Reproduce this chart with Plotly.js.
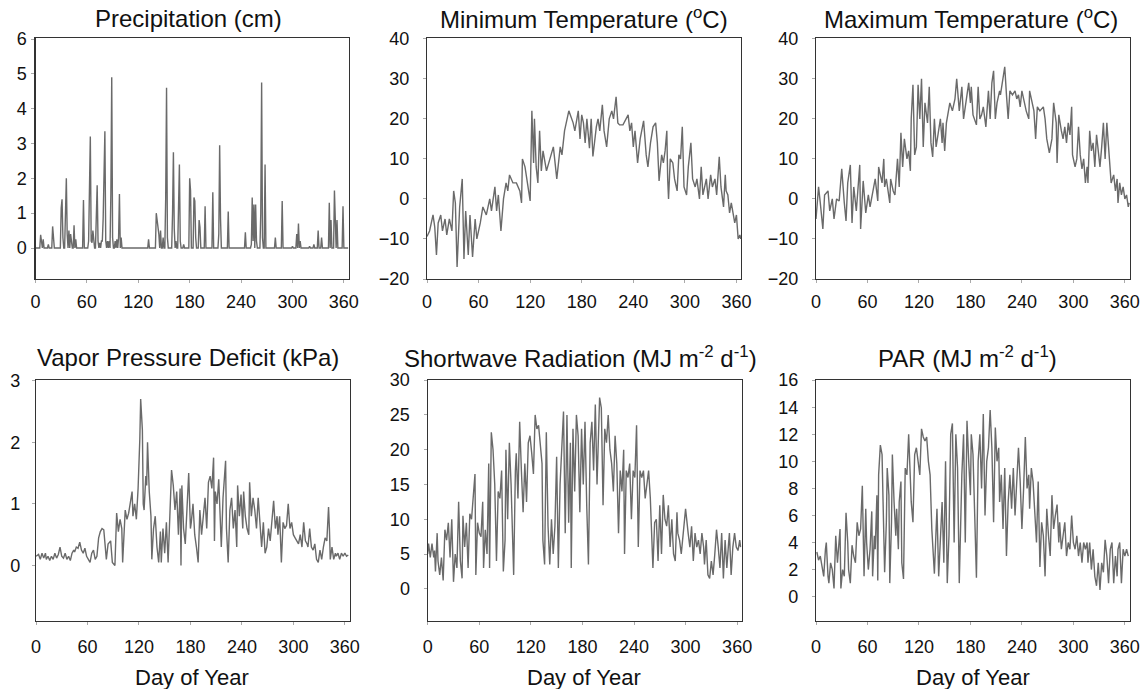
<!DOCTYPE html>
<html><head><meta charset="utf-8">
<script src="https://cdn.plot.ly/plotly-3.0.1.min.js"></script>
<style>html,body{margin:0;padding:0;background:#fff}#chart{width:1147px;height:689px}</style>
</head><body><div id="chart"></div>
<script>
// ---- Precipitation (cm): days with rain and amounts (all other days 0) ----
const precipDays = [6,7,9,15,20,21,30,31,32,35,36,37,39,41,42,45,47,56,62,63,64,65,66,67,68,71,72,73,75,77,78,79,80,81,82,84,86,88,89,90,93,95,97,98,100,110,132,141,142,143,144,146,149,152,153,154,160,161,162,164,167,168,169,173,180,181,185,186,187,191,192,198,207,214,215,216,225,245,252,253,254,255,257,258,263,264,265,268,280,288,300,305,307,309,320,325,330,334,343,345,349,350,352,359];
const precipAmounts = [0.38,0.1,0.25,0.1,0.62,0.3,1.15,1.4,0.3,1.45,2.0,0.4,0.5,0.4,0.2,0.65,0.25,1.38,0.2,2.0,3.2,0.2,0.15,0.5,0.2,1.4,1.8,0.2,0.15,0.2,0.2,0.85,2.4,3.35,0.2,0.2,0.2,1.6,4.9,0.3,0.2,0.25,0.3,1.55,0.3,0.02,0.25,1.0,0.8,0.6,0.4,0.5,0.3,1.45,4.6,0.3,1.0,2.75,0.55,0.2,0.9,2.4,0.2,0.1,2.0,1.65,1.45,1.35,0.3,0.8,0.6,1.2,1.6,0.4,2.95,0.85,1.05,0.45,0.1,1.45,0.2,1.25,1.25,0.2,1.0,4.75,0.3,2.4,0.3,1.35,0.05,0.4,0.7,0.2,0.05,0.1,0.5,0.3,1.3,0.8,1.65,1.0,0.8,1.2];

// ---- Minimum temperature (°C) ----
const tminDays = [0,3,7,9,11,13,16,18,21,23, 26,29,31,33,35,38,41,43,45,48, 50,53,56,58,62,65,69,73,75,79,
  81,83,86,89,92,94,96,100,104,108, 110,111,114,118,120,122,124,125,127,129, 131,133,135,139,143,147,151,155,157,160,
  165,170,172,174,176,178,180,182,184,186, 189,191,193,197,199,201,204,206,209,212, 215,217,220,222,224,228,232,234,236,238,
  240,242,245,248,252,255,257,260,263,266, 268,270,273,275,277,279,280,281,283,286, 288,291,293,295,297,299,302,304,307,309,
  312,314,317,319,321,325,327,330,332,335, 337,340,342,345,347,348,350,352,354,356, 358,360,362,364,365];
const tminVals = [-9.4,-8,-4,-7,-14,-6,-4,-8,-5,-9, -5,-8,2,-1,-17,-2,5,-15,-3,-14, -4,-14.5,-5,-10,-6,-2,-4,0,-3,3,
  -3,1,-8,0,4,2,6,4,4,2, -1,10,8,3,-0.5,22,9,20,8,4, 17,7,12,7,10,13,5,13,11,17,
  22,19,17,20,22,15,21,19,14,20, 12.7,20,10.6,18,20,17,23.5,17,13,20, 22,20,25.5,19,18.5,18.5,20,21,17,19,
  13,17,9,15,19.5,11,8,14,18,19, 14,4.5,11,9,12,17,5,0,10,9, 5,2,11,10,18,3,1,8,14,5,
  3,5,0,8,1,5,0,6,3,5, 1,10.5,3,-2,6,2,1,-3.5,-1,-4, -6,-4,-10,-9,-10];

// ---- Maximum temperature (°C) ----
const tmaxDays = [0,3,5,8,10,14,16,19,21,24, 27,30,33,35,37,40,42,44,47,51, 52,55,58,61,63,67,69,72,73,77,
  79,80,82,86,87,90,92,95,97,99, 101,103,106,108,110,111,113,115,117,119, 121,123,125,127,130,132,134,136,138,140,
  143,145,147,148,150,152,156,159,162,164, 167,170,172,175,178,180,181,183,187,189, 191,193,195,198,201,203,205,207,209,211,
  214,215,218,220,222,224,226,229,232,234, 236,238,240,242,245,248,249,251,254,256, 258,261,265,267,269,272,275,277,280,281,
  283,286,288,290,292,294,296,298,299,302, 304,306,308,310,312,314,316,317,319,321, 323,325,327,329,331,333,335,337,339,341,
  343,344,347,349,351,352,354,356,358,360, 362,364,365];
const tmaxVals = [-5,3,-1,-7.5,1,2,-3,0,-5,0, -0.5,7.5,-1,-5.5,4,8.5,-6,3,-3,8.5, -7.5,4.5,-3.5,1,-2,3,5,-0.5,8,4,
  10,3,5,-1,5,2,1,10,3,16.5, 8,15,10,12,7,20,28.5,11,13,28.5, 20,30,13,24,19,28,14,10.5,20,13,
  17,20,14,19,12,19,24,22,25,30, 22,28,20,25,29,24,28,21,18.5,28, 20,21,23,18,27,20,29,32,20,24,
  27,26,30,33,26,20,27,26,27,25, 26,23,27,25,22,20,27,25,22,15, 23,22,23,20,15,11.5,15,24,19,9,
  21,17,15,18,14,19,16,23,11,8, 10,18,11,7.5,10,4,8,4,17,12, 14,8,16,12,8,13,19,10,19,13,
  8,4,6,2,5,-1,4,1,3,0, 1,-2,-1];

// ---- Vapor pressure deficit (kPa) ----
const vpdDays = [0,3,5,7,9,11,12,14,16,18, 20,22,24,26,28,30,32,34,36,38, 40,42,44,45,47,49,51,53,55,57,
  59,61,63,65,67,69,71,73,75,77, 79,82,84,87,89,92,94,96,98,100, 101,104,106,108,110,112,113,115,117,119,
  121,122,124,125,126,128,129,130,132,134, 135,137,139,141,143,145,146,148,150,152, 154,156,158,160,162,164,166,168,169,170,
  172,174,176,178,180,181,183,185,187,189, 191,193,195,197,199,201,203,205,207,208, 209,211,213,214,216,218,221,222,224,226,
  228,230,232,234,235,237,239,241,242,244, 246,248,249,251,253,255,257,259,261,263, 265,267,269,271,273,275,277,279,281,282,
  284,286,288,290,292,294,296,298,300,302, 304,306,308,310,312,314,316,317,319,321, 323,325,327,329,331,333,335,337,339,341,
  342,343,345,347,349,350,352,354,356,358, 360,362,364];
const vpdVals = [0.15,0.18,0.1,0.2,0.12,0.2,0.1,0.15,0.08,0.15, 0.1,0.2,0.12,0.18,0.3,0.15,0.12,0.2,0.1,0.15, 0.08,0.2,0.25,0.22,0.3,0.28,0.38,0.25,0.2,0.28,
  0.15,0.1,0.05,0.2,0.25,0.1,0.15,0.45,0.55,0.6, 0.58,0.1,0.35,0.4,0.05,0.0,0.85,0.55,0.75,0.6, 0.05,0.9,0.75,0.85,1.05,1.2,0.8,1.0,0.75,1.25,
  2.05,2.7,2.2,1.0,0.9,1.45,1.3,2.0,1.2,0.8, 0.1,0.6,0.8,0.3,0.05,0.55,0.05,0.6,0.2,0.7, 0.05,1.0,1.55,1.3,0.9,1.2,0.5,1.25,0.0,1.3,
  0.6,0.35,0.9,1.5,0.6,0.7,1.0,0.5,0.3,0.05, 0.9,0.5,0.8,1.1,0.6,1.35,1.45,1.25,1.75,0.4, 1.2,1.0,1.4,0.9,0.3,1.1,1.7,0.6,0.05,0.9,
  1.1,0.6,0.9,0.3,1.3,0.8,1.15,0.6,1.2,0.8, 0.6,0.5,1.35,0.8,1.1,0.9,0.6,1.1,0.6,0.3, 0.7,0.2,0.3,0.6,0.4,0.8,1.05,0.6,0.8,0.5,
  0.8,0.05,0.7,0.6,0.65,1.0,0.6,0.7,0.5,0.45, 0.4,0.35,0.5,0.3,0.7,0.4,0.35,0.3,0.6,0.3, 0.25,0.35,0.1,0.05,0.25,0.1,0.3,0.45,0.4,0.95,
  0.6,0.1,0.3,0.1,0.2,0.15,0.2,0.1,0.2,0.15, 0.2,0.15,0.17];

// ---- Shortwave radiation (MJ m-2 d-1) ----
const swDays = [0,1,3,5,7,8,9,11,12,14, 16,18,20,22,24,26,28,30,32,34, 36,38,40,41,43,45,47,49,51,53,
  55,56,58,60,62,64,65,67,69,71, 72,74,76,78,80,82,84,86,88,90, 91,93,95,97,98,100,102,103,105,107,
  109,111,113,115,117,119,121,123,125,127, 129,131,133,134,136,138,140,142,144,146, 148,150,152,154,156,158,160,162,163,164,
  166,167,169,171,173,175,177,179,181,183, 185,187,189,191,193,195,197,198,200,202, 204,206,208,210,212,214,216,218,220,222,
  224,226,228,229,231,233,235,237,239,241, 243,245,247,249,251,253,255,257,259,260, 262,264,266,268,270,272,274,276,278,280,
  282,284,286,288,290,291,293,295,297,300, 303,305,307,309,311,313,315,317,319,321, 322,324,326,328,330,332,334,336,338,340,
  342,344,346,348,350,351,353,355,357,359, 361,363,364];
const swVals = [5,6.5,4.5,6.5,4.5,5.5,2.5,8,4,2, 4.5,1.2,8.5,7,9.5,4.5,10,1,5,3, 12.5,4,1.5,10.5,6,9.5,3,10.8,10,13,
  16.5,2,9.5,8,7.5,12.5,3,8.5,5,18, 3,22.5,20,15,4,14,13,17,2.5,7, 20,10,21,15,11,2,17,19.5,13,24,
  17,11,18,12.5,21,22,19.5,16.5,25,23, 23.5,21,18,7,3.5,22.5,9,3.5,10,5, 9,19,3,15,20,25.5,8,25,17,9.5,
  21,3,23,14,25,22,11,23,15,24, 12,3.5,21,24,17,26.5,15,20,27.5,26, 12,23,21,25,20,18,14,22,18,8,
  17,14,20,5,17,16,18,10,17,16, 23.5,6,17,16,17,13,15,17,13,9, 3,9.5,10,4,12,5,13.5,10,9,12,
  6,10,5,4,11,8,7,5,8,11.5, 8,6,9,4,8,6,7,5,8,6, 3.5,7,2,1.5,4,2,5,8.5,6,3,
  8,1.5,7,3,6.5,8,2,6,8,6, 5.5,7,6];

// ---- PAR (MJ m-2 d-1) ----
const parDays = [1,3,5,7,9,11,12,14,15,17, 19,21,23,25,27,28,29,31,33,35, 37,38,40,42,44,46,48,50,52,54,
  56,58,59,61,63,65,66,68,69,71, 72,73,75,77,78,80,82,83,85,86, 88,89,91,93,94,96,97,99,100,102,
  104,106,108,110,111,113,115,117,119,121, 123,125,127,129,131,133,135,136,138,140, 141,143,145,147,149,151,153,155,157,159,
  161,163,165,167,170,172,174,176,178,180, 181,183,185,187,189,191,193,195,197,199, 201,203,205,207,209,211,213,214,216,218,
  220,222,224,226,228,230,232,234,236,238, 240,242,244,246,248,249,251,253,255,257, 259,261,263,265,267,269,271,273,275,277,
  279,281,283,284,286,288,290,292,294,296, 298,300,302,304,306,308,310,312,314,316, 317,319,321,323,325,327,329,331,333,335,
  337,339,341,343,345,347,349,351,352,354, 356,358,360,362,364];
const parVals = [3.3,2.7,3.0,2.3,1.5,3.5,4.0,1.5,1.0,2.5, 2.0,0.6,4.5,2.5,4.8,5.0,0.6,2.0,1.5,6.2, 4,2,1.0,3.8,3.0,2.5,5.5,4.5,5.0,8.2,
  1.5,6.5,4,2,3.5,6.3,1.5,4.5,3.5,7.5, 1.2,9,11.2,10.5,7.5,1.8,5.5,9.5,7.5,1.0, 5.5,10.5,7,4.5,6.5,3.5,7,8.5,2.5,1.3,
  9.5,9,12,8,7,5.5,10.5,11,10,9, 12.4,11.8,11.5,11.8,10,9,5,3.5,1.7,5, 6.5,1.5,5,7,2.5,10,1.0,4.5,12,12.8,
  4.0,12,9.5,1,9,12,4,13,10,7.5, 12,10.5,6,1.4,10,12,8,13.5,6,10, 11,13.8,11,5.5,12.5,10,11,7,9,5,
  9.5,3,7,9,6.5,9.5,6,8.5,11,8.5, 5,8,11.8,8,9,6.5,9.5,8.5,6.5,4, 8.5,2.2,5.5,4.5,1.5,6.5,4.5,3,7.5,5,
  6,6.8,4,5.5,3.5,4.5,5.5,3,4,3.5, 6,4,3.5,4.5,3,4,2.5,4,3.5,4, 2.5,4,2,3.5,1.5,0.8,2.5,0.5,2.5,1.8,
  4.2,3,1.0,3.5,4,1.0,3,1.5,3.5,4.0, 1.0,3.5,3,3.5,3];

// ---- axis ticks and panel titles ----
const dayTicks = [0,60,120,180,240,300,360];
const precipTicks = [0,1,2,3,4,5,6];
const tempTicks = [-20,-10,0,10,20,30,40];
const vpdTicks = [0,1,2,3];
const swTicks = [0,5,10,15,20,25,30];
const parTicks = [0,2,4,6,8,10,12,14,16];
const panelTitles = ['Precipitation (cm)','Minimum Temperature (<sup>o</sup>C)','Maximum Temperature (<sup>o</sup>C)',
  'Vapor Pressure Deficit (kPa)','Shortwave Radiation (MJ m<sup>-2</sup> d<sup>-1</sup>)','PAR (MJ m<sup>-2</sup> d<sup>-1</sup>)'];
const xTitle = 'Day of Year';

// build the daily precipitation table from the rain days
const allDays = Array.from({length: 366}, (_, d) => d);
const precipDaily = allDays.map(() => 0);
precipDays.forEach((d, i) => { precipDaily[d] = precipAmounts[i]; });

const W = 1147, H = 689;
const FONT = 'Arial, "Liberation Sans", sans-serif';
const LINE = {color: '#6a6a6a', width: 1.4};

const traces = [
  {x: allDays, y: precipDaily, xaxis: 'x', yaxis: 'y'},
  {x: tminDays, y: tminVals, xaxis: 'x2', yaxis: 'y2'},
  {x: tmaxDays, y: tmaxVals, xaxis: 'x3', yaxis: 'y3'},
  {x: vpdDays, y: vpdVals, xaxis: 'x4', yaxis: 'y4'},
  {x: swDays, y: swVals, xaxis: 'x5', yaxis: 'y5'},
  {x: parDays, y: parVals, xaxis: 'x6', yaxis: 'y6'}
].map(t => Object.assign(t, {type: 'scatter', mode: 'lines', line: LINE, hoverinfo: 'skip', showlegend: false}));

function px(a, b) { return [a / W, b / W]; }
function py(top, bottom) { return [1 - bottom / H, 1 - top / H]; }

function axis(domain, range, tickvals, standoff, anchor) {
  return {
    domain: domain, range: range, tickvals: tickvals, anchor: anchor,
    showline: true, linecolor: '#333', linewidth: 1.2, mirror: true,
    ticks: 'outside', ticklen: 3, tickcolor: '#aaa', tickwidth: 1,
    showgrid: false, zeroline: false, fixedrange: true,
    ticklabelstandoff: standoff,
    tickfont: {family: FONT, size: 18, color: '#111'}
  };
}

const rowTop = py(38, 279), rowBot = py(380, 621);
const layout = {
  width: W, height: H, margin: {l: 0, r: 0, t: 0, b: 0},
  paper_bgcolor: '#fff', plot_bgcolor: '#fff', showlegend: false,
  font: {family: FONT, color: '#111'},
  xaxis:  axis(px(35.5, 349), [0, 366], dayTicks, 3, 'y'),
  yaxis:  axis(rowTop, [-0.89, 6.03], precipTicks, 1, 'x'),
  xaxis2: axis(px(427, 741), [0, 365.3], dayTicks, 3, 'y2'),
  yaxis2: axis(rowTop, [-20, 40.2], tempTicks, 10, 'x2'),
  xaxis3: axis(px(816, 1130), [0, 366], dayTicks, 3, 'y3'),
  yaxis3: axis(rowTop, [-20, 40.2], tempTicks, 10, 'x3'),
  xaxis4: axis(px(36, 350), [0, 366], dayTicks, 6, 'y4'),
  yaxis4: axis(rowBot, [-0.9, 3.01], vpdTicks, 8, 'x4'),
  xaxis5: axis(px(427.7, 741.7), [0, 365.3], dayTicks, 6, 'y5'),
  yaxis5: axis(rowBot, [-4.63, 30.02], swTicks, 10, 'x5'),
  xaxis6: axis(px(816, 1130), [0, 366], dayTicks, 6, 'y6'),
  yaxis6: axis(rowBot, [-1.8, 16.01], parTicks, 10, 'x6'),
  annotations: []
};

const centers = [188, 584, 971, 188, 580, 968];
const titleY = [18, 18, 18, 357, 357, 357];
panelTitles.forEach((t, i) => {
  layout.annotations.push({text: t, xref: 'paper', yref: 'paper', x: centers[i] / W, y: 1 - titleY[i] / H,
    xanchor: 'center', yanchor: 'middle', showarrow: false, font: {family: FONT, size: 24, color: '#111'}});
});
[192, 584, 973].forEach(c => {
  layout.annotations.push({text: xTitle, xref: 'paper', yref: 'paper', x: c / W, y: 1 - 677 / H,
    xanchor: 'center', yanchor: 'middle', showarrow: false, font: {family: FONT, size: 22, color: '#111'}});
});

Plotly.newPlot('chart', traces, layout, {staticPlot: true, displayModeBar: false});
</script></body></html>
